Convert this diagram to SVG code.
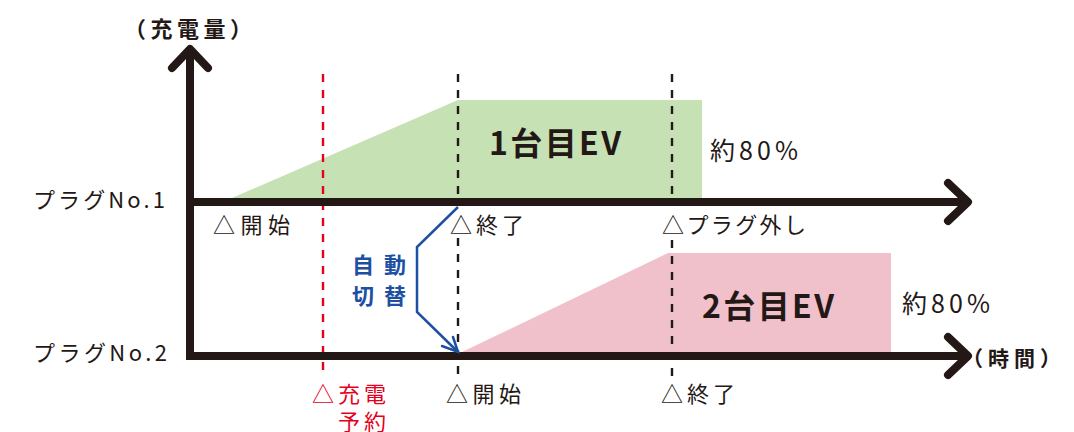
<svg xmlns="http://www.w3.org/2000/svg" width="1074" height="432" viewBox="0 0 1074 432">
<style>
text{font-family:"Noto Sans CJK JP","Noto Sans",sans-serif;fill:#231815}
.lb{font-size:22px}
.bd{font-weight:700}
.rd{fill:#e60020}
.bl{fill:#1d50a2}
.ax{fill:none;stroke:#231815;stroke-width:8}
.ah{fill:none;stroke:#231815;stroke-width:8;stroke-linecap:round;stroke-linejoin:round}
.dk{stroke:#231815;stroke-width:2.4;stroke-dasharray:8 8}
.dr{stroke:#e60020;stroke-width:2.4;stroke-dasharray:8 8}
</style>
<rect width="1074" height="432" fill="#fff"/>
<g id="ev1-area"><polygon points="232,198 458,100 702,100 702,198" fill="#c6e1b4"/></g>
<g id="ev2-area"><polygon points="462,352 668,253 891,253 891,352" fill="#f0c1cb"/></g>
<g id="connectors">
<line class="dr" x1="323" y1="74" x2="323" y2="376"/>
<line class="dk" x1="458" y1="74" x2="458" y2="206"/>
<line class="dk" x1="458" y1="238" x2="458" y2="376"/>
<line class="dk" x1="672" y1="74" x2="672" y2="206"/>
<line class="dk" x1="672" y1="240" x2="672" y2="376"/>
<path class="ax" d="M190,52 V356 H966"/>
<line class="ax" x1="190" y1="202" x2="966" y2="202"/>
<polyline class="ah" points="172,68 190,49 208,68"/>
<polyline class="ah" points="948,183 968,202 948,221"/>
<polyline class="ah" points="948,337 968,356 948,375"/>
<polyline points="458,207 417,247 417,312 458,352" fill="none" stroke="#1d50a2" stroke-width="2.5" stroke-linejoin="miter"/>
<polyline points="442,346 458,352 453,337" fill="none" stroke="#1d50a2" stroke-width="2.5" stroke-linecap="round"/>
</g>
<g id="axis-labels">
<text class="bd" x="124" y="37" font-size="22" textLength="128" lengthAdjust="spacing">（充電量）</text>
<text class="bd" x="962" y="366" font-size="21" textLength="99" lengthAdjust="spacing">（時間）</text>
<text x="33" y="208" font-size="22" textLength="132" lengthAdjust="spacing">プラグNo.1</text>
<text x="33" y="361" font-size="22" textLength="134" lengthAdjust="spacing">プラグNo.2</text>
</g>
<g id="plug1-labels">
<text class="lb" x="213" y="233" textLength="77" lengthAdjust="spacing">△開始</text>
<text class="lb" x="450" y="233" textLength="74" lengthAdjust="spacing">△終了</text>
<text class="lb" x="662" y="233" textLength="144" lengthAdjust="spacing">△プラグ外し</text>
</g>
<g id="plug2-labels">
<text class="lb rd" x="312" y="402" textLength="74" lengthAdjust="spacing">△充電</text>
<text class="lb rd" x="338" y="430" textLength="48" lengthAdjust="spacing">予約</text>
<text class="lb" x="446" y="402" textLength="75" lengthAdjust="spacing">△開始</text>
<text class="lb" x="661" y="402" textLength="74" lengthAdjust="spacing">△終了</text>
</g>
<g id="auto-switch">
<text class="bd bl" x="352" y="273" font-size="22" textLength="54" lengthAdjust="spacing">自動</text>
<text class="bd bl" x="352" y="304" font-size="22" textLength="54" lengthAdjust="spacing">切替</text>
</g>
<g id="ev1">
<text class="bd" x="489" y="155" font-size="32" textLength="132" lengthAdjust="spacing">1台目EV</text>
<text x="710" y="160" font-size="25" textLength="88" lengthAdjust="spacing">約80%</text>
</g>
<g id="ev2">
<text class="bd" x="702" y="318" font-size="32" textLength="132" lengthAdjust="spacing">2台目EV</text>
<text x="902" y="313" font-size="25" textLength="88" lengthAdjust="spacing">約80%</text>
</g>
</svg>
